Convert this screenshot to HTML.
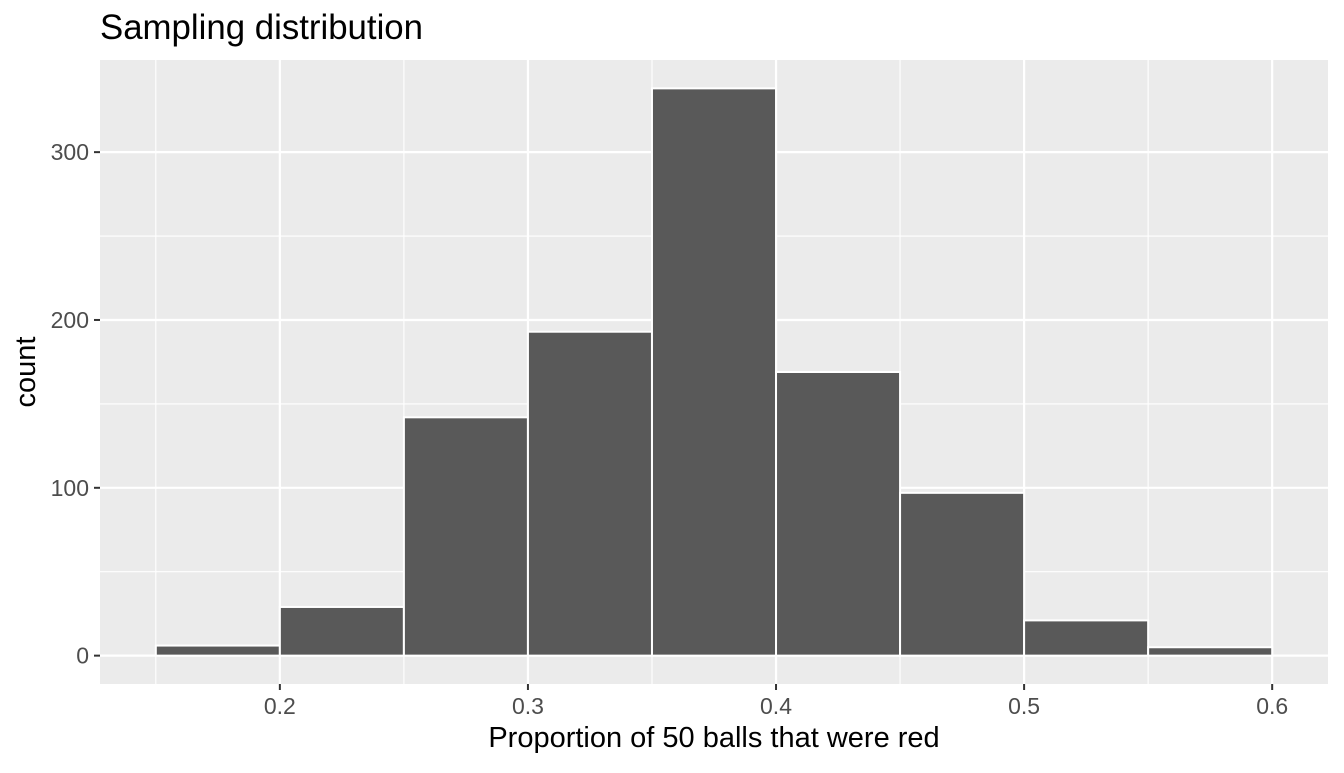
<!DOCTYPE html>
<html><head><meta charset="utf-8"><style>
body{margin:0;background:#fff;}
svg text{font-family:"Liberation Sans",sans-serif;}
</style></head><body>
<svg id="chart" width="1344" height="768" xmlns="http://www.w3.org/2000/svg">
<text x="100" y="39" style="font-size:34.8px" fill="#000">Sampling distribution</text>
<rect x="100" y="60" width="1228" height="624" fill="#ebebeb"/>
<g id="grid"></g><g id="bars"></g><g id="axes"></g>
<text x="714" y="747" style="font-size:29px" text-anchor="middle" fill="#000">Proportion of 50 balls that were red</text>
<text transform="translate(35,372) rotate(-90)" style="font-size:29px" text-anchor="middle" fill="#000">count</text>
</svg>
<script>
const binStarts=[0.15,0.2,0.25,0.3,0.35,0.4,0.45,0.5,0.55];
const counts=[6,29,142,193,338,169,97,21,5];
const binWidth=0.05;
const xTicks=[0.2,0.3,0.4,0.5,0.6];
const xTickLabels=["0.2","0.3","0.4","0.5","0.6"];
const xMinor=[0.15,0.25,0.35,0.45,0.55];
const yTicks=[0,100,200,300];
const yTickLabels=["0","100","200","300"];
const yMinor=[50,150,250];
const X0=100,X1=1328,Y0=684,Y1=60;
const xmin=0.1275,xmax=0.6225,ymin=-16.9,ymax=354.9;
const x=v=>X0+(v-xmin)/(xmax-xmin)*(X1-X0);
const y=v=>Y0-(v-ymin)/(ymax-ymin)*(Y0-Y1);
const NS="http://www.w3.org/2000/svg";
function mk(t,a,p){const e=document.createElementNS(NS,t);for(const k in a)e.setAttribute(k,a[k]);p.appendChild(e);return e;}
const g=document.getElementById('grid'),b=document.getElementById('bars'),ax=document.getElementById('axes');
xMinor.forEach(v=>{const l=mk('line',{x1:x(v),x2:x(v),y1:Y1,y2:Y0,stroke:'#fff','stroke-width':1.1},g);

});
yMinor.forEach(v=>{const l=mk('line',{x1:X0,x2:X1,y1:y(v),y2:y(v),stroke:'#fff','stroke-width':1.1},g);

});
xTicks.forEach((v,i)=>{const l=mk('line',{x1:x(v),x2:x(v),y1:Y1,y2:Y0,stroke:'#fff','stroke-width':2.2},g);


const t=mk('line',{x1:x(v),x2:x(v),y1:Y0,y2:Y0+6,stroke:'#333','stroke-width':2},ax);


const tx=mk('text',{x:x(v),y:Y0+30,style:'font-size:23px','text-anchor':'middle',fill:'#4d4d4d'},ax);tx.textContent=xTickLabels[i];

});
yTicks.forEach((v,i)=>{const l=mk('line',{x1:X0,x2:X1,y1:y(v),y2:y(v),stroke:'#fff','stroke-width':2.2},g);


const t=mk('line',{x1:X0-6,x2:X0,y1:y(v),y2:y(v),stroke:'#333','stroke-width':2},ax);


const tx=mk('text',{x:X0-11,y:y(v)+8,style:'font-size:23px','text-anchor':'end',fill:'#4d4d4d'},ax);tx.textContent=yTickLabels[i];

});
binStarts.forEach((s,i)=>{const r=mk('rect',{x:x(s),y:y(counts[i]),width:x(s+binWidth)-x(s),height:y(0)-y(counts[i]),fill:'#595959',stroke:'#fff','stroke-width':2},b);

});
</script>
</body></html>
